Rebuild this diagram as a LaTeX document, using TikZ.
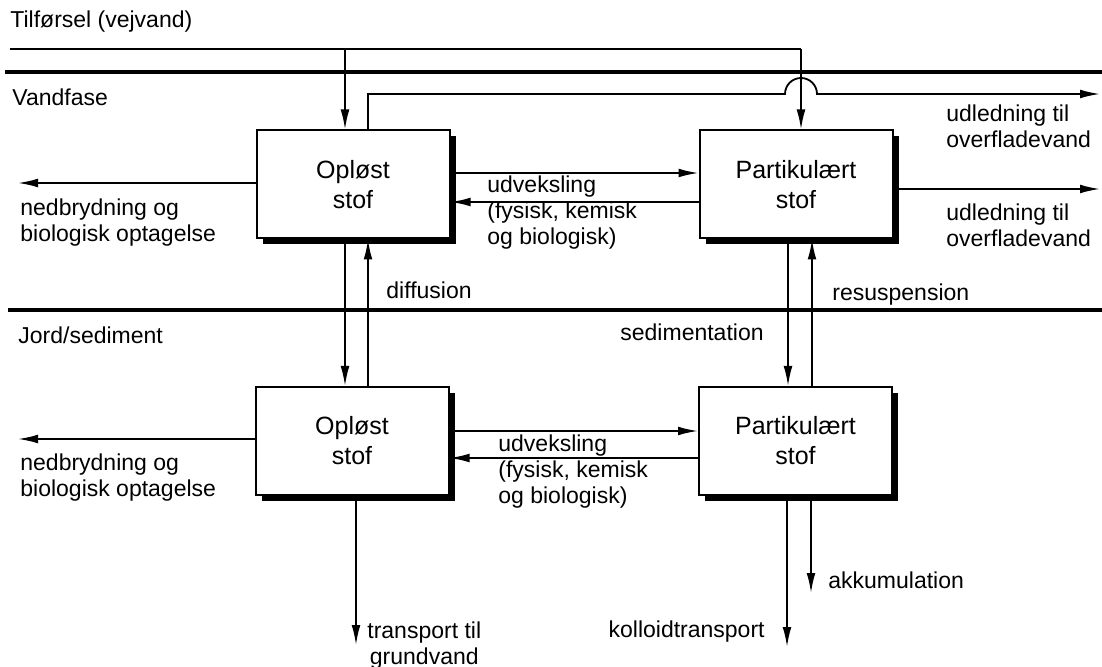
\documentclass[tikz,border=0pt]{standalone}
\usepackage{fontspec}
\setmainfont{Liberation Sans}
\usetikzlibrary{arrows.meta,shadows}
\begin{document}
\begin{tikzpicture}[x=0.5pt,y=-0.5pt]
		\tikzset{box/.style = {draw, line width=1pt, fill=white, minimum width=96.5pt, minimum height=54pt, inner sep=0pt, align=center, font=\fontsize{12.5}{15}\selectfont, drop shadow={shadow xshift=3pt, shadow yshift=-3pt, opacity=1, fill=black}}}
		\tikzset{edge/.style = {line width=0.9pt, -{Latex[length=10pt,width=4.4pt]}}}
		\tikzset{line/.style = {line width=0.9pt}}
		\tikzset{border/.style = {line width=1.8pt}}
		\tikzset{lbl/.style = {inner sep=0pt, align=left, anchor=west, font=\fontsize{11.5}{13}\selectfont}}
		\useasboundingbox (0,0) rectangle (1102,667);
		
		\node[box]  (o1) at (353,184.5) {Opløst\\stof};
		\node[box]  (p1) at (796,184.5) {Partikulært\\stof};
		\node[box]  (o2) at (352,441)   {Opløst\\stof};
		\node[box]  (p2) at (795.5,441) {Partikulært\\stof};
		
		\coordinate (tin)  at (10,49);
		\coordinate (tb)   at (345,49);
		\coordinate (tk)   at (801,49);
		\coordinate (hop)  at (368,94);
		\coordinate (ud1)  at (1100,94);
		\coordinate (ud2)  at (1100,189);
		\coordinate (ned1) at (18,183);
		\coordinate (ned2) at (18,439);
		\coordinate (grv)  at (356,645);
		\coordinate (kol)  at (787,647);
		\coordinate (akk)  at (811,593);
		
		\draw[border] (5,72) -- (1102,72);
		\draw[border] (8,310) -- (1102,310);
		
		\draw[line] (tin) -- (tk);
		\draw[edge] (tk) -- (p1.north -| tk);
		\draw[edge] (tb) -- (o1.north -| tb);
		\draw[edge] (o1.north -| hop) -- (hop) -- (785,94) arc[start angle=180, end angle=0, radius=8pt] -- (ud1);
		\draw[edge] (p1.east |- ud2) -- (ud2);
		
		\draw[edge] (o1.east |- 0,173) -- (p1.west |- 0,173);
		\draw[edge] (p1.west |- 0,202) -- (o1.east |- 0,202);
		\draw[edge] (o2.east |- 0,431) -- (p2.west |- 0,431);
		\draw[edge] (p2.west |- 0,458) -- (o2.east |- 0,458);
		\draw[edge] (o1.west |- ned1) -- (ned1);
		\draw[edge] (o2.west |- ned2) -- (ned2);
		
		\draw[edge] (o1.south -| 345,0) -- (o2.north -| 345,0);
		\draw[edge] (o2.north -| 368,0) -- (o1.south -| 368,0);
		\draw[edge] (p1.south -| 788,0) -- (p2.north -| 788,0);
		\draw[edge] (p2.north -| 812,0) -- (p1.south -| 812,0);
		
		\draw[edge] (o2.south -| grv) -- (grv);
		\draw[edge] (p2.south -| kol) -- (kol);
		\draw[edge] (p2.south -| akk) -- (akk);
		
		\node[lbl] (til) at (10,22)  {Tilførsel (vejvand)};
		\node[lbl] (van) at (12,97)  {Vandfase};
		\node[lbl] (jor) at (18,335) {Jord/sediment};
		\node[lbl] (ul1) at (946,126) {udledning til\\overfladevand};
		\node[lbl] (ul2) at (946,225) {udledning til\\overfladevand};
		\node[lbl] (uv1) at (487,213) {udveksling\\(fysisk, kemisk\\og biologisk)};
		\node[lbl] (uv2) at (498,472) {udveksling\\(fysisk, kemisk\\og biologisk)};
		\node[lbl] (nb1) at (20,223) {nedbrydning og\\biologisk optagelse};
		\node[lbl] (nb2) at (20,478) {nedbrydning og\\biologisk optagelse};
		\node[lbl] (dif) at (386,290) {diffusion};
		\node[lbl] (res) at (832,295) {resuspension};
		\node[lbl] (sed) at (620,332) {sedimentation};
		\node[lbl, align=center] (tra) at (367,646) {transport til\\grundvand};
		\node[lbl, anchor=east] (kot) at (765,632) {kolloidtransport};
		\node[lbl] (aku) at (828,580) {akkumulation};
\end{tikzpicture}
\end{document}
